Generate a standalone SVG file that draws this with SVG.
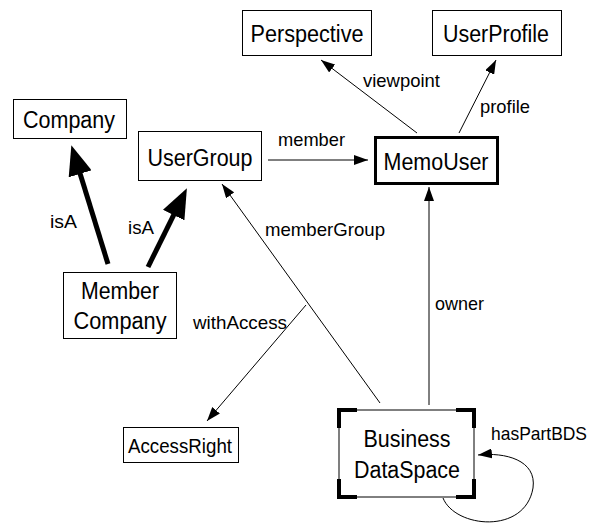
<svg xmlns="http://www.w3.org/2000/svg" width="596" height="527" viewBox="0 0 596 527">
<style>
.box{fill:#fff;stroke:#000;stroke-width:1}
.nt{font-family:"Liberation Sans",Arial,sans-serif;font-size:23px;fill:#000;text-anchor:middle}
.lb{font-family:"Liberation Sans",Arial,sans-serif;font-size:19px;fill:#000}
.ln{stroke:#000;stroke-width:1;fill:none}
.thick{stroke:#000;stroke-width:5;fill:none}
.corner{stroke:#000;stroke-width:4;fill:none;stroke-linecap:square}
</style>
<defs>
<marker id="ah" markerUnits="userSpaceOnUse" markerWidth="14" markerHeight="10" refX="14" refY="5" orient="auto">
<path d="M0,0 L14,5 L0,10 z" fill="#000"/>
</marker>
<marker id="big" markerUnits="userSpaceOnUse" markerWidth="30" markerHeight="24" refX="2" refY="12" orient="auto">
<path d="M0,0 L30,12 L0,24 z" fill="#000"/>
</marker>
</defs>
<rect width="596" height="527" fill="#fff"/>
<g id="connectors">
<line class="ln" x1="268" y1="160" x2="368" y2="160" marker-end="url(#ah)"/>
<line class="ln" x1="417" y1="133" x2="321" y2="60" marker-end="url(#ah)"/>
<line class="ln" x1="459" y1="133" x2="496" y2="60" marker-end="url(#ah)"/>
<line class="ln" x1="429" y1="405" x2="429" y2="187" marker-end="url(#ah)"/>
<line class="ln" x1="380" y1="403" x2="222" y2="184" marker-end="url(#ah)"/>
<line class="ln" x1="306" y1="305" x2="207" y2="421" marker-end="url(#ah)"/>
<path class="ln" d="M443,498 C455,528 525,535 533,488 C537,460 505,452 478,455" marker-end="url(#ah)"/>
<line class="thick" x1="108" y1="264" x2="79.6" y2="171.9" marker-end="url(#big)"/>
<line class="thick" x1="148" y1="267" x2="174.5" y2="213.3" marker-end="url(#big)"/>
<text class="lb" x="278" y="146" textLength="67" lengthAdjust="spacingAndGlyphs">member</text>
<text class="lb" x="363" y="87" textLength="77" lengthAdjust="spacingAndGlyphs">viewpoint</text>
<text class="lb" x="480" y="113" textLength="50" lengthAdjust="spacingAndGlyphs">profile</text>
<text class="lb" x="435" y="310" textLength="49" lengthAdjust="spacingAndGlyphs">owner</text>
<text class="lb" x="265" y="236" textLength="120" lengthAdjust="spacingAndGlyphs">memberGroup</text>
<text class="lb" x="193" y="329" textLength="94" lengthAdjust="spacingAndGlyphs">withAccess</text>
<text class="lb" x="50" y="228" textLength="27" lengthAdjust="spacingAndGlyphs">isA</text>
<text class="lb" x="128" y="234" textLength="26" lengthAdjust="spacingAndGlyphs">isA</text>
<text class="lb" x="491" y="440" textLength="96" lengthAdjust="spacingAndGlyphs">hasPartBDS</text>
</g>
<g id="perspective">
<rect class="box" x="242.5" y="10.5" width="129" height="45"/>
<text class="nt" x="307" y="42" textLength="113" lengthAdjust="spacingAndGlyphs">Perspective</text>
</g>
<g id="userprofile">
<rect class="box" x="432.5" y="10.5" width="129" height="45"/>
<text class="nt" x="496" y="42" textLength="106" lengthAdjust="spacingAndGlyphs">UserProfile</text>
</g>
<g id="company">
<rect class="box" x="13.5" y="99.5" width="113" height="39"/>
<text class="nt" x="69" y="128" textLength="92" lengthAdjust="spacingAndGlyphs">Company</text>
</g>
<g id="usergroup">
<rect class="box" x="138.5" y="131.5" width="123" height="49"/>
<text class="nt" x="200" y="166" textLength="105" lengthAdjust="spacingAndGlyphs">UserGroup</text>
</g>
<g id="memouser">
<rect x="375.5" y="137.5" width="122" height="46" fill="#fff" stroke="#000" stroke-width="3"/>
<text class="nt" x="436" y="170" textLength="105" lengthAdjust="spacingAndGlyphs">MemoUser</text>
</g>
<g id="membercompany">
<rect class="box" x="63.5" y="272.5" width="113" height="66"/>
<text class="nt" x="120" y="299" textLength="78" lengthAdjust="spacingAndGlyphs">Member</text>
<text class="nt" x="120" y="329" textLength="93" lengthAdjust="spacingAndGlyphs">Company</text>
</g>
<g id="accessright">
<rect class="box" x="123.5" y="427.5" width="115" height="35"/>
<text class="nt" x="180" y="453" style="font-size:20px" textLength="104" lengthAdjust="spacingAndGlyphs">AccessRight</text>
</g>
<g id="businessdataspace">
<rect class="box" x="339" y="410" width="135" height="87"/>
<path class="corner" d="M339,426 V410 H355"/>
<path class="corner" d="M458,410 H474 V426"/>
<path class="corner" d="M339,481 V497 H355"/>
<path class="corner" d="M458,497 H474 V481"/>
<text class="nt" x="407" y="447" textLength="87" lengthAdjust="spacingAndGlyphs">Business</text>
<text class="nt" x="407" y="478" textLength="106" lengthAdjust="spacingAndGlyphs">DataSpace</text>
</g>
</svg>
